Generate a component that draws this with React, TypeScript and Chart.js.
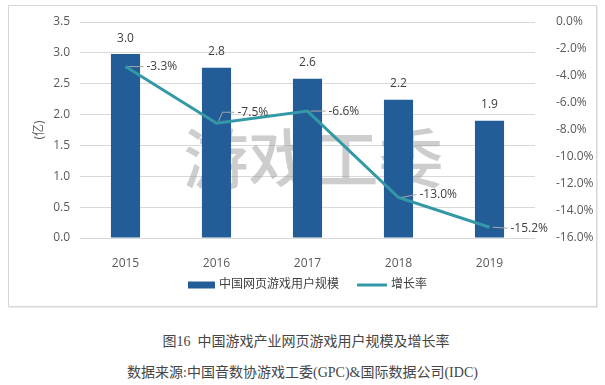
import React, { useEffect, useRef } from 'react';
import { Chart, registerables } from 'chart.js';

Chart.register(...registerables);

const years = ['2015', '2016', '2017', '2018', '2019'];
const users = [2.98, 2.76, 2.58, 2.24, 1.9];
const growth = [-3.3, -7.5, -6.6, -13.0, -15.2];
const barName = '中国网页游戏用户规模';
const lineName = '增长率';
const leftAxisTitle = '(亿)';
const leftMin = 0;
const leftMax = 3.5;
const leftStep = 0.5;
const rightMin = -16;
const rightMax = 0;
const rightStep = 2;
const watermarkText = '游戏工委';
const captionTitle = '图16  中国游戏产业网页游戏用户规模及增长率';
const captionSource = '数据来源:中国音数协游戏工委(GPC)&国际数据公司(IDC)';

// label placement tweaks (style only)
const growthLabelShiftY = [0, -11, 0, -3, 1];

const BAR_COLOR = '#235d98';
const LINE_COLOR = '#3499a7';
const TEXT_COLOR = '#404040';
const TICK_COLOR = '#595959';
const FONT = "'Open Sans', 'Noto Sans CJK SC', sans-serif";

const overlayPlugin = {
  id: 'overlay',
  beforeDatasetsDraw(chart: any) {
    const { ctx, chartArea } = chart;
    ctx.save();
    ctx.font = "500 65px 'Noto Sans CJK SC'";
    ctx.fillStyle = 'rgba(150,150,150,0.48)';
    ctx.textAlign = 'center';
    ctx.textBaseline = 'middle';
    const cx = (chartArea.left + chartArea.right) / 2 + 6;
    const cy = (chartArea.top + chartArea.bottom) / 2 + 28;
    ctx.fillText(watermarkText, cx, cy);
    ctx.restore();
  },
  afterDatasetsDraw(chart: any) {
    const { ctx } = chart;
    ctx.save();
    ctx.font = `12px ${FONT}`;
    ctx.fillStyle = TEXT_COLOR;
    const barMeta = chart.getDatasetMeta(0);
    barMeta.data.forEach((el: any, i: number) => {
      ctx.textAlign = 'center';
      ctx.textBaseline = 'middle';
      ctx.fillText(users[i].toFixed(1), el.x, el.y - 16);
    });
    const lineMeta = chart.getDatasetMeta(1);
    lineMeta.data.forEach((el: any, i: number) => {
      const lx = el.x + 21;
      const ly = el.y + growthLabelShiftY[i];
      ctx.strokeStyle = '#a6a6a6';
      ctx.lineWidth = 1;
      ctx.beginPath();
      if (Math.abs(growthLabelShiftY[i]) > 5) {
        ctx.moveTo(el.x + 2, el.y - 2);
        ctx.lineTo(el.x + 6, ly);
        ctx.lineTo(lx - 3, ly);
      } else {
        ctx.moveTo(el.x + 3, el.y);
        ctx.lineTo(lx - 3, ly);
      }
      ctx.stroke();
      ctx.textAlign = 'left';
      ctx.textBaseline = 'middle';
      ctx.fillText(growth[i].toFixed(1) + '%', lx, ly);
    });
    ctx.restore();
  },
  afterDraw(chart: any) {
    const { ctx, width } = chart;
    ctx.save();
    ctx.font = `12px ${FONT}`;
    ctx.textBaseline = 'middle';
    ctx.textAlign = 'left';
    const y = 285;
    const w1 = ctx.measureText(barName).width;
    const w2 = ctx.measureText(lineName).width;
    const total = 27 + 4 + w1 + 18 + 30 + 4 + w2;
    let x = width / 2 + 5 - total / 2;
    ctx.fillStyle = BAR_COLOR;
    ctx.fillRect(x, y - 3.5, 27, 7);
    x += 31;
    ctx.fillStyle = TEXT_COLOR;
    ctx.fillText(barName, x, y);
    x += w1 + 18;
    ctx.strokeStyle = LINE_COLOR;
    ctx.lineWidth = 3;
    ctx.beginPath();
    ctx.moveTo(x, y);
    ctx.lineTo(x + 30, y);
    ctx.stroke();
    x += 34;
    ctx.fillText(lineName, x, y);
    ctx.restore();
  },
};

function ChartView() {
  const ref = useRef<HTMLCanvasElement>(null);
  useEffect(() => {
    if (!ref.current) return;
    const chart = new Chart(ref.current, {
      type: 'bar',
      data: {
        labels: years,
        datasets: [
          {
            type: 'bar',
            label: barName,
            data: users,
            backgroundColor: BAR_COLOR,
            yAxisID: 'y',
            barPercentage: 0.32,
            categoryPercentage: 1,
            order: 2,
          },
          {
            type: 'line',
            label: lineName,
            data: growth,
            borderColor: LINE_COLOR,
            backgroundColor: LINE_COLOR,
            borderWidth: 3,
            pointRadius: 0,
            tension: 0,
            yAxisID: 'y1',
            order: 1,
          } as any,
        ],
      },
      options: {
        animation: false,
        responsive: false,
        maintainAspectRatio: false,
        layout: { padding: { top: 22, left: 0, right: 0, bottom: 0 } },
        plugins: {
          legend: { display: false },
          tooltip: { enabled: false },
        },
        scales: {
          x: {
            grid: { display: false },
            border: { display: false },
            ticks: { font: { size: 12, family: FONT }, color: TICK_COLOR, padding: 10 },
            afterFit: (s: any) => {
              s.height = 72;
            },
          },
          y: {
            position: 'left',
            min: leftMin,
            max: leftMax,
            grid: { color: '#d9d9d9', drawTicks: false, lineWidth: 1 },
            border: { display: false },
            ticks: {
              stepSize: leftStep,
              padding: 10,
              font: { size: 12, family: FONT },
              color: TICK_COLOR,
              callback: (v: any) => Number(v).toFixed(1),
            },
            title: {
              display: true,
              text: leftAxisTitle,
              font: { size: 12, family: FONT },
              color: TICK_COLOR,
              padding: { top: 32, bottom: 0 },
            },
            afterFit: (s: any) => {
              s.width = 80;
            },
          },
          y1: {
            position: 'right',
            min: rightMin,
            max: rightMax,
            grid: { display: false },
            border: { display: false },
            ticks: {
              stepSize: rightStep,
              padding: 13,
              font: { size: 12, family: FONT },
              color: TICK_COLOR,
              callback: (v: any) => Number(v).toFixed(1) + '%',
            },
            afterFit: (s: any) => {
              s.width = 70;
            },
          },
        },
      } as any,
      plugins: [overlayPlugin],
    });
    return () => chart.destroy();
  }, []);
  return <canvas ref={ref} width={605} height={310} style={{ position: 'absolute', left: 0, top: 0 }} />;
}

export default function App() {
  return (
    <div style={{ position: 'absolute', left: 0, top: 0, width: 605, height: 385, background: '#fff' }}>
      <div
        style={{
          position: 'absolute',
          left: 8,
          top: 5,
          width: 589,
          height: 302,
          boxSizing: 'border-box',
          border: '1px solid #d6d6d6',
          boxShadow: '1px 1px 0 #ececec',
        }}
      />
      <ChartView />
      <div
        style={{
          position: 'absolute',
          left: 0,
          width: 612,
          top: 332,
          textAlign: 'center',
          fontFamily: "'Liberation Serif', 'Noto Sans CJK SC', serif",
          fontSize: 14,
          color: '#454545',
          lineHeight: '20px',
          whiteSpace: 'pre',
        }}
      >
        {captionTitle}
      </div>
      <div
        style={{
          position: 'absolute',
          left: 0,
          width: 605,
          top: 363,
          textAlign: 'center',
          fontFamily: "'Liberation Serif', 'Noto Sans CJK SC', serif",
          fontSize: 14,
          color: '#454545',
          lineHeight: '20px',
          whiteSpace: 'pre',
        }}
      >
        {captionSource}
      </div>
    </div>
  );
}
